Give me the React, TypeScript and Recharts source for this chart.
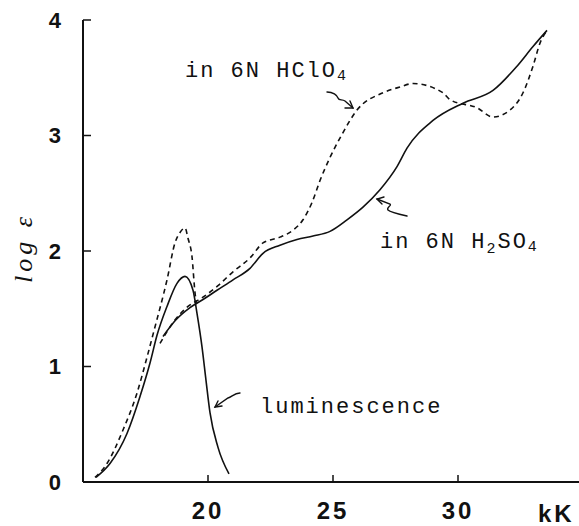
import React from 'react';
import { LineChart, Line, XAxis, YAxis } from 'recharts';

// wavenumber (kK) / log eps
const lumSolidX = [15.52, 16.08, 16.76, 17.28, 17.68, 17.96, 18.36, 18.76, 19.08, 19.4, 19.56, 19.76, 19.92, 20.08, 20.4, 20.84];
const lumSolidY = [0.04, 0.16, 0.42, 0.74, 1.03, 1.27, 1.52, 1.72, 1.78, 1.66, 1.46, 1.17, 0.88, 0.6, 0.3, 0.07];

const lumDashX = [15.48, 15.96, 16.6, 17.16, 17.56, 17.84, 18.36, 18.68, 18.88, 19.08, 19.2, 19.36, 19.48, 19.54];
const lumDashY = [0.04, 0.16, 0.45, 0.77, 1.08, 1.31, 1.75, 2.07, 2.16, 2.2, 2.11, 1.95, 1.64, 1.55];

const h2so4X = [18.2, 18.7, 19.28, 19.8, 20.36, 21.0, 21.68, 22.2, 22.88, 23.56, 24.2, 24.88, 25.56, 26.2, 26.88, 27.56, 27.96, 29.0, 30.2, 31.4, 32.36, 33.0, 33.56];
const h2so4Y = [1.26, 1.4, 1.51, 1.58, 1.66, 1.75, 1.85, 1.98, 2.05, 2.1, 2.13, 2.17, 2.27, 2.38, 2.53, 2.73, 2.89, 3.13, 3.28, 3.39, 3.6, 3.77, 3.91];

const hclo4X = [18.08, 18.6, 19.2, 19.8, 20.4, 21.0, 21.68, 22.2, 22.88, 23.4, 23.8, 24.16, 24.48, 24.88, 25.36, 25.96, 27.0, 27.68, 28.2, 29.4, 29.68, 30.76, 31.4, 32.08, 32.6, 33.0, 33.28, 33.56];
const hclo4Y = [1.2, 1.38, 1.52, 1.6, 1.7, 1.82, 1.94, 2.07, 2.12, 2.18, 2.27, 2.42, 2.61, 2.81, 3.01, 3.22, 3.37, 3.42, 3.45, 3.37, 3.31, 3.24, 3.16, 3.22, 3.37, 3.6, 3.8, 3.91];

const xTicks = [20, 25, 30];
const yTicks = [0, 1, 2, 3, 4];

const zip = (xs: number[], ys: number[]) => xs.map((x, i) => ({ x, y: ys[i] }));

const mono = "'Liberation Mono', 'DejaVu Sans Mono', monospace";
const sans = "'Liberation Sans', Arial, sans-serif";

export default function App() {
  const lineProps = {
    type: 'monotone' as const,
    dataKey: 'y',
    xAxisId: 'bottom',
    stroke: '#111',
    strokeWidth: 1.6,
    dot: false,
    activeDot: false,
    isAnimationActive: false,
  };

  return (
    <div style={{ position: 'absolute', left: 0, top: 0, width: 579, height: 526, overflow: 'hidden', background: '#fff' }}>
      <LineChart width={583} height={526} margin={{ top: 20, right: 0, bottom: 0, left: 0 }}>
        <XAxis
          xAxisId="bottom"
          dataKey="x"
          type="number"
          domain={[15, 35]}
          ticks={xTicks}
          height={44}
          axisLine={{ stroke: '#111', strokeWidth: 2 }}
          tickLine={{ stroke: '#111', strokeWidth: 1.5 }}
          tickSize={-7}
          tickMargin={27}
          tick={{ fontSize: 24, fontWeight: 'bold', fill: '#111', fontFamily: sans, letterSpacing: 3 }}
        />
        <XAxis
          xAxisId="top"
          orientation="top"
          type="number"
          domain={[15, 35]}
          ticks={xTicks}
          height={0}
          axisLine={{ stroke: '#111', strokeWidth: 2 }}
          tickLine={{ stroke: '#111', strokeWidth: 1.5 }}
          tickSize={-6}
          tick={false}
        />
        <YAxis
          type="number"
          domain={[0, 4]}
          ticks={yTicks}
          width={83}
          axisLine={{ stroke: '#111', strokeWidth: 2 }}
          tickLine={{ stroke: '#111', strokeWidth: 1.5 }}
          tickSize={-8}
          tickMargin={30}
          tick={{ fontSize: 22, fontWeight: 'bold', fill: '#111', fontFamily: sans }}
        />
        <Line {...lineProps} data={zip(lumSolidX, lumSolidY)} />
        <Line {...lineProps} data={zip(lumDashX, lumDashY)} strokeDasharray="5 4" />
        <Line {...lineProps} data={zip(h2so4X, h2so4Y)} />
        <Line {...lineProps} data={zip(hclo4X, hclo4Y)} strokeDasharray="5 4" />
      </LineChart>

      <svg width={579} height={526} style={{ position: 'absolute', left: 0, top: 0, pointerEvents: 'none' }}>
        <text x={0} y={0} transform="translate(32,248) rotate(-90)" textAnchor="middle" fontSize={26} fontStyle="italic" letterSpacing={4} fontFamily="'Liberation Serif', serif" fill="#111">
          log ε
        </text>
        <text x={538} y={522} fontSize={24} fontWeight="bold" fontFamily={sans} letterSpacing={3} fill="#111">kK</text>

        <g fontFamily={mono} fill="#111" fontSize={22} letterSpacing={2}>
          <text x={185} y={77}>
            in 6N HClO<tspan fontSize={15} dy={3}>4</tspan>
          </text>
          <text x={380} y={248}>
            in 6N H<tspan fontSize={15} dy={5}>2</tspan>
            <tspan dy={-5}>SO</tspan>
            <tspan fontSize={15} dy={3}>4</tspan>
          </text>
          <text x={260} y={413}>luminescence</text>
        </g>

        <g fill="none" stroke="#111" strokeWidth={1.4} strokeLinecap="round">
          <path d="M327,92 C333,92 337,95 338,98 C339,101 342,99 345,101 L353,108" />
          <path d="M345,108 L353,108 L350,101" />
          <path d="M407,216 C398,214 390,212 388,210 C386,207 392,206 390,204 L377,199" />
          <path d="M384,197 L377,199 L382,204" />
          <path d="M240,393 C234,393 232,397 228,398 L215,407" />
          <path d="M218,401 L215,407 L222,406" />
        </g>
      </svg>
    </div>
  );
}
